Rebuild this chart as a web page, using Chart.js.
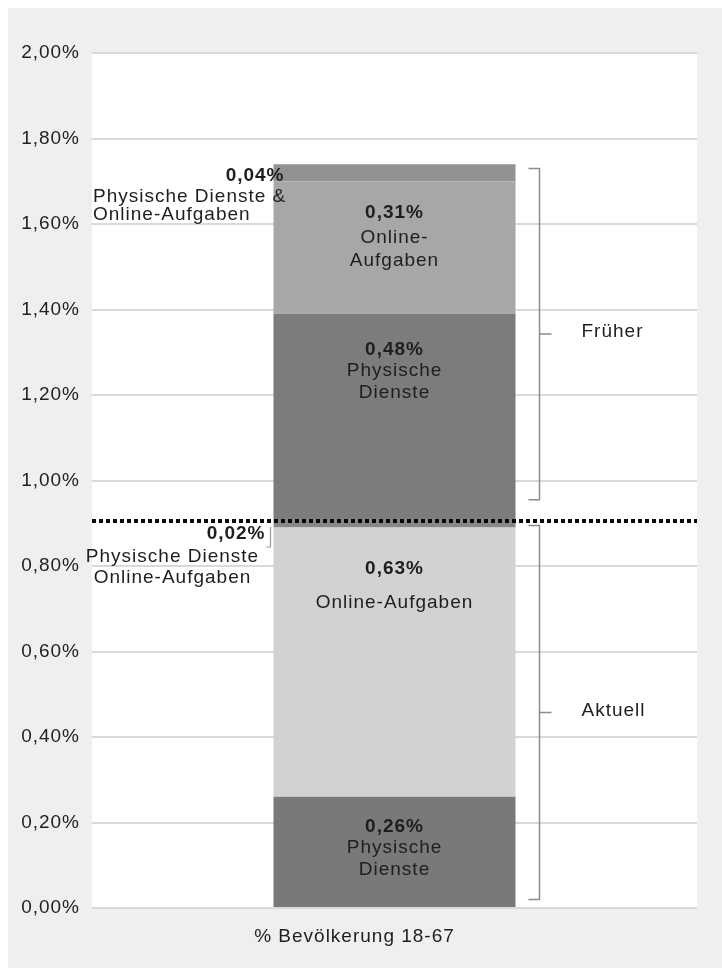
<!DOCTYPE html>
<html>
<head>
<meta charset="utf-8">
<script src="https://cdn.jsdelivr.net/npm/chart.js@4.4.1/dist/chart.umd.min.js"></script>
<style>
  html, body { margin: 0; padding: 0; background: #fff; }
  #wrap { position: absolute; left: 8px; top: 8px; width: 714px; height: 960px; }
</style>
</head>
<body>
<div id="wrap"><canvas id="chart"></canvas></div>
<script>
  // data, bottom segment first
  var categories = ['% Bevölkerung 18-67'];
  var segmentValues = [0.26, 0.63, 0.02, 0.48, 0.31, 0.04];
  var segmentValueLabels = ['0,26%', '0,63%', '0,02%', '0,48%', '0,31%', '0,04%'];
  var segmentNames = [
    ['Physische', 'Dienste'],
    ['Online-Aufgaben'],
    ['Physische Dienste', 'Online-Aufgaben'],
    ['Physische', 'Dienste'],
    ['Online-', 'Aufgaben'],
    ['Physische Dienste &', 'Online-Aufgaben']
  ];
  var segmentColors = ['#797979', '#d2d2d2', '#888888', '#7c7c7c', '#a7a7a7', '#929292'];
  var yTicks = [0, 0.2, 0.4, 0.6, 0.8, 1.0, 1.2, 1.4, 1.6, 1.8, 2.0];
  var groupLabels = ['Aktuell', 'Früher'];
  var groupRanges = [[0.02, 0.895], [0.955, 1.73]];
  var dividerValue = 0.905;

  var FONT = "'Liberation Sans', Arial, sans-serif";
  var SPACING = '1px';

  // where the segment texts go (px from the segment top)
  var labelLayout = [
    { mode: 'in', ys: [30, 51, 73] },
    { mode: 'in', ys: [41, 75] },
    { mode: 'left02', ys: [15, 38, 59] },
    { mode: 'in', ys: [36, 57, 79] },
    { mode: 'in', ys: [32, 57, 80] },
    { mode: 'left04', ys: [12, 33, 51] }
  ];

  function fmt(v) {
    return v.toFixed(2).replace('.', ',') + '%';
  }

  var bgPlugin = {
    id: 'bg',
    beforeDraw: function (chart) {
      var ctx = chart.ctx, a = chart.chartArea;
      ctx.letterSpacing = SPACING;
      ctx.save();
      ctx.fillStyle = '#efefef';
      ctx.fillRect(0, 0, chart.width, chart.height);
      ctx.fillStyle = '#ffffff';
      ctx.fillRect(a.left, a.top, a.right - a.left, a.bottom - a.top);
      ctx.restore();
    }
  };

  var labelPlugin = {
    id: 'segLabels',
    afterDatasetsDraw: function (chart) {
      var ctx = chart.ctx, a = chart.chartArea, y = chart.scales.y;
      ctx.save();
      ctx.letterSpacing = SPACING;
      ctx.textBaseline = 'middle';
      ctx.fillStyle = '#1e1e1e';

      segmentValues.forEach(function (v, i) {
        var el = chart.getDatasetMeta(i).data[0];
        var top = el.y, cx = el.x, left = el.x - el.width / 2;
        var lay = labelLayout[i];
        var lines = [segmentValueLabels[i]].concat(segmentNames[i]);
        lines.forEach(function (t, j) {
          ctx.font = (j === 0 ? 'bold ' : '') + '19px ' + FONT;
          var ty = top + lay.ys[j];
          if (lay.mode === 'in') {
            ctx.textAlign = 'center';
            ctx.fillText(t, cx, ty);
          } else if (lay.mode === 'left02') {
            if (j === 0) { ctx.textAlign = 'right'; ctx.fillText(t, left - 8, ty); }
            else { ctx.textAlign = 'center'; ctx.fillText(t, left - 101, ty); }
          } else {
            if (j === 0) { ctx.textAlign = 'right'; ctx.fillText(t, left + 11, ty); }
            else { ctx.textAlign = 'left'; ctx.fillText(t, a.left + 1, ty); }
          }
        });
        if (lay.mode === 'left02') {
          ctx.strokeStyle = '#9a9a9a';
          ctx.lineWidth = 1.2;
          ctx.beginPath();
          ctx.moveTo(left - 3, top + 8);
          ctx.lineTo(left - 3, top + 28);
          ctx.lineTo(left - 7, top + 28);
          ctx.stroke();
        }
      });

      // dotted divider
      var dy = y.getPixelForValue(dividerValue);
      ctx.strokeStyle = '#0a0a0a';
      ctx.lineWidth = 4;
      ctx.setLineDash([4, 3]);
      ctx.beginPath();
      ctx.moveTo(a.left, dy);
      ctx.lineTo(a.right, dy);
      ctx.stroke();
      ctx.setLineDash([]);

      // brackets on the right
      var el0 = chart.getDatasetMeta(0).data[0];
      var bx = el0.x + el0.width / 2 + 24;
      ctx.strokeStyle = '#8c8c8c';
      ctx.lineWidth = 1.5;
      ctx.font = '19px ' + FONT;
      ctx.textAlign = 'left';
      groupRanges.forEach(function (r, k) {
        var y0 = y.getPixelForValue(r[1]), y1 = y.getPixelForValue(r[0]);
        var ym = (y0 + y1) / 2;
        ctx.beginPath();
        ctx.moveTo(bx - 11, y0);
        ctx.lineTo(bx, y0);
        ctx.lineTo(bx, y1);
        ctx.lineTo(bx - 11, y1);
        ctx.moveTo(bx, ym);
        ctx.lineTo(bx + 12, ym);
        ctx.stroke();
        ctx.fillStyle = '#1e1e1e';
        ctx.fillText(groupLabels[k], bx + 42, ym - 2);
      });
      ctx.restore();
    }
  };

  new Chart(document.getElementById('chart').getContext('2d'), {
    type: 'bar',
    data: {
      labels: categories,
      datasets: segmentValues.map(function (v, i) {
        return {
          data: [v],
          backgroundColor: segmentColors[i],
          borderWidth: 0,
          barPercentage: 0.4,
          categoryPercentage: 1
        };
      })
    },
    options: {
      responsive: true,
      maintainAspectRatio: false,
      animation: false,
      layout: { padding: { top: 45, right: 25, left: 0, bottom: 0 } },
      plugins: { legend: { display: false }, tooltip: { enabled: false } },
      scales: {
        x: {
          stacked: true,
          grid: { display: false },
          border: { display: false },
          ticks: { color: '#1e1e1e', font: { family: FONT, size: 19 }, padding: 9, labelOffset: -40 },
          afterFit: function (s) { s.height = 60; }
        },
        y: {
          stacked: true,
          min: 0,
          max: 2,
          afterBuildTicks: function (s) {
            s.ticks = yTicks.map(function (v) { return { value: v }; });
          },
          grid: { color: '#d9d9d9', lineWidth: 2, drawTicks: false },
          border: { display: false },
          ticks: {
            color: '#222',
            font: { family: FONT, size: 19 },
            padding: 12,
            callback: function (v) { return fmt(v); }
          },
          afterFit: function (s) { s.width = 84; }
        }
      }
    },
    plugins: [bgPlugin, labelPlugin]
  });
</script>
</body>
</html>
